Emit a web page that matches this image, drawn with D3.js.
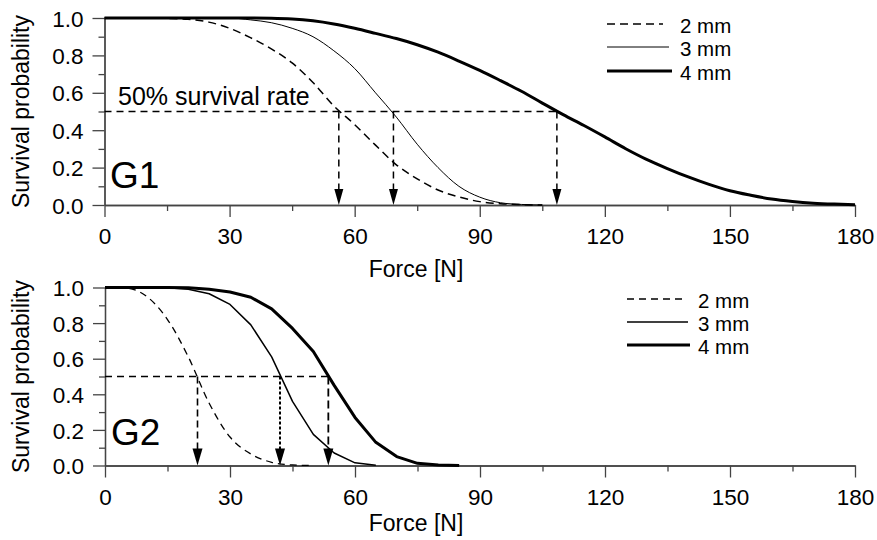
<!DOCTYPE html>
<html>
<head>
<meta charset="utf-8">
<script src="https://cdn.jsdelivr.net/npm/d3@7"></script>
<style>
  body { margin: 0; background: #fff; }
  svg { display: block; }
  text { font-family: "Liberation Sans", Arial, sans-serif; fill: #000; }
</style>
</head>
<body>
<svg id="chart" width="877" height="540"></svg>
<script>
// ---------- DATA ----------
const xTicks = [0, 30, 60, 90, 120, 150, 180];
const yTicks = [0.0, 0.2, 0.4, 0.6, 0.8, 1.0];
const seriesNames = ["2 mm", "3 mm", "4 mm"];

// Panel G1
const g1Force2 = [0,5,10,15,20,25,30,35,40,45,50,55,60,65,70,75,80,85,90,95,100,105];
const g1Surv2  = [1,1,1,0.998,0.993,0.978,0.945,0.895,0.835,0.76,0.655,0.53,0.43,0.32,0.215,0.14,0.08,0.043,0.018,0.007,0.002,0];
const g1Force3 = [0,5,10,15,20,25,30,35,40,45,50,55,60,65,70,75,80,85,90,95,100,105];
const g1Surv3  = [1,1,1,1,1,1,1,0.99,0.975,0.945,0.9,0.825,0.73,0.6,0.47,0.325,0.2,0.1,0.042,0.012,0.003,0];
const g1Force4 = [0,5,10,15,20,25,30,35,40,45,50,55,60,65,70,75,80,85,90,95,100,105,110,115,120,125,130,135,140,145,150,155,160,165,170,175,180];
const g1Surv4  = [1,1,1,1,1,1,1,1,0.999,0.995,0.985,0.968,0.945,0.918,0.89,0.857,0.817,0.77,0.72,0.665,0.608,0.545,0.483,0.425,0.364,0.301,0.244,0.195,0.15,0.11,0.076,0.052,0.032,0.019,0.01,0.005,0.002];
const g1Median = [56.2, 69.3, 108.5];

// Panel G2
const g2Force2 = [0,5,10,15,20,25,30,35,40,45,50];
const g2Surv2  = [1,0.997,0.95,0.82,0.61,0.35,0.16,0.065,0.018,0.003,0];
const g2Force3 = [0,5,10,15,20,25,30,35,40,45,50,55,60,65];
const g2Surv3  = [1,1,1,0.998,0.99,0.965,0.905,0.79,0.61,0.36,0.175,0.07,0.015,0.002];
const g2Force4 = [0,5,10,15,20,25,30,35,40,45,50,55,60,65,70,75,80,85];
const g2Surv4  = [1,1,1,1,0.998,0.99,0.975,0.945,0.88,0.77,0.64,0.45,0.27,0.13,0.05,0.012,0.003,0];
const g2Median = [22.2, 42.0, 53.6];

const zip = (xs, ys) => xs.map((x, i) => [x, ys[i]]);

// ---------- DRAW ----------
const svg = d3.select("#chart");
svg.append("rect").attr("width", 877).attr("height", 540).attr("fill", "#fff");

const axisColor = "#444";

function panel(cfg) {
  const x = d3.scaleLinear().domain([0, 180]).range(cfg.xr);
  const y = d3.scaleLinear().domain([0, 1]).range(cfg.yr);
  const g = svg.append("g");

  // minor ticks
  const xMinor = d3.axisBottom(x).tickValues(d3.range(15, 180, 30)).tickSize(6).tickFormat("").tickSizeOuter(0);
  const yMinor = d3.axisLeft(y).tickValues([0.1, 0.3, 0.5, 0.7, 0.9]).tickSize(6).tickFormat("").tickSizeOuter(0);
  g.append("g").attr("transform", `translate(0,${y(0)})`).call(xMinor);
  g.append("g").attr("transform", `translate(${x(0)},0)`).call(yMinor);

  const xAxis = d3.axisBottom(x).tickValues(xTicks).tickSize(12).tickPadding(12).tickSizeOuter(0).tickFormat(d3.format("d"));
  const yAxis = d3.axisLeft(y).tickValues(yTicks).tickSize(12).tickPadding(9).tickSizeOuter(0).tickFormat(d3.format(".1f"));
  const gx = g.append("g").attr("transform", `translate(0,${y(0)})`).call(xAxis);
  const gy = g.append("g").attr("transform", `translate(${x(0)},0)`).call(yAxis);
  [gx, gy].forEach(a => {
    a.selectAll("text").style("font-size", "22.5px").style("font-family", "Liberation Sans, Arial, sans-serif").attr("fill", "#000");
  });
  g.selectAll(".domain, .tick line").attr("stroke", axisColor).attr("stroke-width", 1.3);
  gy.selectAll("text").attr("dy", "0.36em");
  gx.selectAll("text").attr("dy", "0.68em");

  // axis titles
  g.append("text").attr("x", 416).attr("y", cfg.xTitleY)
    .attr("text-anchor", "middle").style("font-size", "23px").text("Force [N]");
  g.append("text").attr("transform", `translate(28.5,${(cfg.yr[0] + cfg.yr[1]) / 2}) rotate(-90)`)
    .attr("text-anchor", "middle").style("font-size", "23px").text("Survival probability");

  // reference lines
  const ref = g.append("g").attr("stroke", "#000").attr("fill", "none");
  ref.append("line").attr("x1", x(0)).attr("x2", x(d3.max(cfg.median))).attr("y1", y(0.5)).attr("y2", y(0.5))
    .attr("stroke-width", 1.5).attr("stroke-dasharray", "7,5");
  cfg.median.forEach((m, i) => {
    ref.append("line").attr("x1", x(m)).attr("x2", x(m)).attr("y1", y(0.5)).attr("y2", y(0) - 10)
      .attr("stroke-width", cfg.vWidth[i]).attr("stroke-dasharray", cfg.vDash[i]);
    g.append("path")
      .attr("d", `M${x(m)},${y(0)} L${x(m) - cfg.aw},${y(0) - cfg.ah} L${x(m) + cfg.aw},${y(0) - cfg.ah} Z`)
      .attr("fill", "#000");
  });

  // curves
  cfg.series.forEach(s => {
    const line = d3.line().x(d => x(d[0])).y(d => y(d[1])).curve(s.curve);
    g.append("path").datum(zip(s.xs, s.ys)).attr("d", line)
      .attr("fill", "none").attr("stroke", "#000").attr("stroke-width", s.w)
      .attr("stroke-dasharray", s.dash || null).attr("stroke-linejoin", "round");
  });

  // legend
  const lg = g.append("g");
  seriesNames.forEach((name, i) => {
    const s = cfg.series[i];
    const ly = cfg.legend.y[i];
    lg.append("line").attr("x1", cfg.legend.x1).attr("x2", cfg.legend.x2[i]).attr("y1", ly).attr("y2", ly)
      .attr("stroke", "#000").attr("stroke-width", s.w).attr("stroke-dasharray", s.dash || null);
    lg.append("text").attr("x", cfg.legend.tx).attr("y", ly + 2).attr("dy", "0.35em")
      .style("font-size", "20.5px").text(name);
  });

  // panel label
  g.append("text").attr("x", cfg.labelX).attr("y", cfg.labelY).style("font-size", "37px").text(cfg.label);
  return { g, x, y };
}

const panelTop = panel({
  xr: [104.5, 855], yr: [205, 18],
  xTitleY: 277,
  median: g1Median,
  vWidth: [1.5, 1.5, 1.5], vDash: ["7,5", "7,5", "7,5"],
  aw: 4.5, ah: 16,
  series: [
    { xs: g1Force2, ys: g1Surv2, w: 1.5, dash: "8,5", curve: d3.curveMonotoneX },
    { xs: g1Force3, ys: g1Surv3, w: 1, curve: d3.curveMonotoneX },
    { xs: g1Force4, ys: g1Surv4, w: 3, curve: d3.curveMonotoneX }
  ],
  legend: { x1: 607, x2: [663, 669, 672], y: [24, 47, 71], tx: 680 },
  label: "G1", labelX: 110, labelY: 188
});
panelTop.g.append("text").attr("x", 118).attr("y", 105).style("font-size", "25px").text("50% survival rate");

panel({
  xr: [105, 855], yr: [465.5, 287.5],
  xTitleY: 531,
  median: g2Median,
  vWidth: [1.6, 2, 1.8], vDash: ["7,4", "3,2", "8,4"],
  aw: 5, ah: 17,
  series: [
    { xs: g2Force2, ys: g2Surv2, w: 1.3, dash: "7,5", curve: d3.curveMonotoneX },
    { xs: g2Force3, ys: g2Surv3, w: 1.5, curve: d3.curveLinear },
    { xs: g2Force4, ys: g2Surv4, w: 3, curve: d3.curveLinear }
  ],
  legend: { x1: 627, x2: [682, 688, 690], y: [299, 322, 345], tx: 698 },
  label: "G2", labelX: 111, labelY: 445
});
</script>
</body>
</html>
